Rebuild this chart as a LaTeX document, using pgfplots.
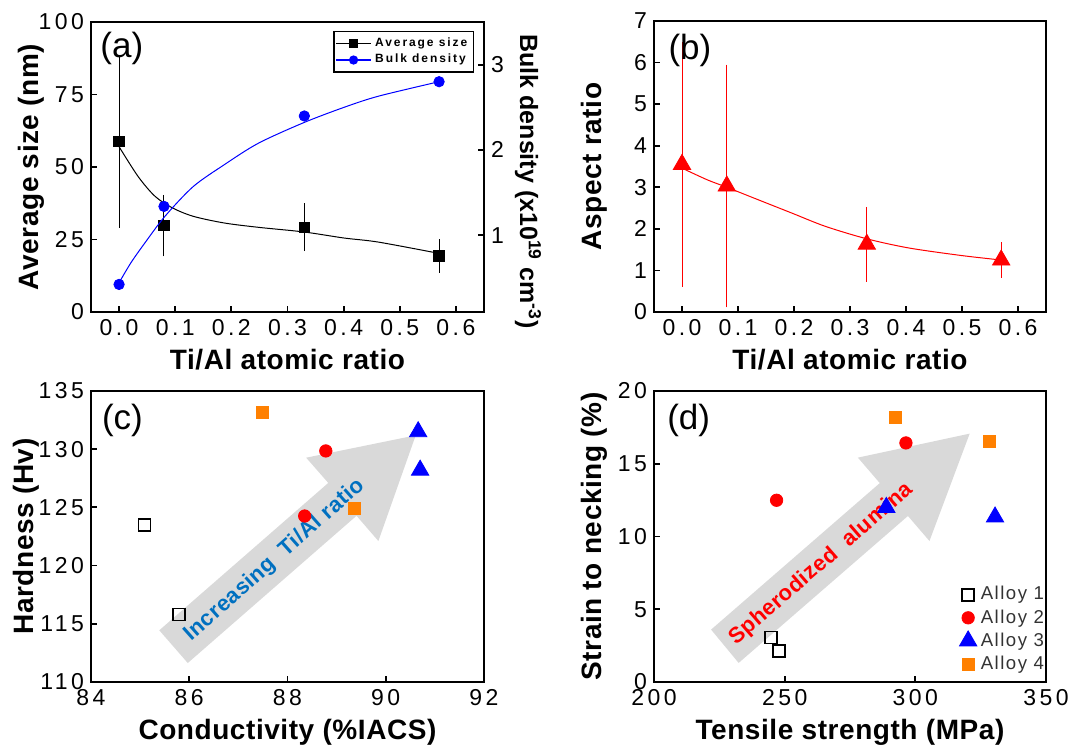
\documentclass[border=0pt]{standalone}
\usepackage{fontspec}
\setmainfont{Liberation Sans}
\newfontfamily\tickf[LetterSpace=15]{Liberation Sans}
\newfontfamily\labf[LetterSpace=2]{Liberation Sans}
\newfontfamily\legf[LetterSpace=16]{Liberation Sans}
\newfontfamily\legd[LetterSpace=8]{Liberation Sans}
\usepackage{pgfplots}
\pgfplotsset{compat=1.18}
\definecolor{myorange}{RGB}{255,128,0}
\definecolor{txtblue}{RGB}{0,112,192}
\pgfplotsset{
  panel/.style={
    scale only axis,
    axis line style={line width=1.2pt},
    every tick/.style={line width=0.9pt, black},
    major tick length=3pt, tick align=inside,
    xtick pos=bottom, ytick pos=left,
    ticklabel style={font=\tickf\fontsize{11.5}{13}\selectfont},
    /pgf/number format/assume math mode=true,
    label style={font=\labf\bfseries\fontsize{14}{16}\selectfont},
  },
  ylab/.style={every axis y label/.style={at={(rel axis cs:#1,0.5)}, rotate=90, anchor=center,
    font=\labf\bfseries\fontsize{14}{16}\selectfont}},
}
\tikzset{plab/.style={anchor=north west, inner sep=0pt, font=\fontsize{17.5}{20}\selectfont}}
\begin{document}
\begin{tikzpicture}
\path[use as bounding box] (0,0) rectangle (536pt,374pt);

% ---------------- (a) ----------------
\begin{axis}[panel, ylab=-0.152, at={(45.5pt,218pt)}, anchor=south west, width=196.5pt, height=145pt,
  xmin=-0.05, xmax=0.65, ymin=0, ymax=100,
  xtick={0,0.1,0.2,0.3,0.4,0.5,0.6}, ytick={0,25,50,75,100},
  xticklabel style={/pgf/number format/.cd, fixed, fixed zerofill, precision=1},
  xlabel={Ti/Al atomic ratio}, ylabel={Average size (nm)}]
\addplot[black, line width=0.5pt, smooth] coordinates {(0,57) (0.034,46.7) (0.064,39.9) (0.095,35.9) (0.132,33) (0.187,30.7) (0.248,29.2) (0.329,27.6) (0.401,25.5) (0.462,24.1) (0.57,20.2)};
\addplot[black, only marks, mark=square*, mark size=2.6pt,
  error bars/.cd, y dir=both, y explicit,
  error bar style={line width=0.5pt, black}, error mark options={black, mark size=2.2pt, line width=0.5pt}]
  table[x=x, y=y, y error=e] {
x y e
0 58.8 28.3
0.08 29.8 9.1
0.33 29.2 6.7
0.57 19.3 4.3
};
\node[plab] at (rel axis cs:0.023,0.965) {(a)};
\end{axis}
\begin{axis}[panel, at={(45.5pt,218pt)}, anchor=south west, width=196.5pt, height=145pt,
  xmin=-0.05, xmax=0.65, ymin=0.1, ymax=3.5,
  axis x line=none, axis y line*=right, ytick pos=right, ytick={1,2,3},
  ylabel={Bulk density (x10\textsuperscript{19} cm\textsuperscript{-3})},
  every axis y label/.style={at={(rel axis cs:1.112,0.45)}, rotate=-90, anchor=center,
    font=\bfseries\fontsize{12.5}{14}\selectfont},
  legend style={at={(0.975,0.97)}, anchor=north east, draw=black, line width=0.8pt,
    font=\legf\bfseries\fontsize{6}{7}\selectfont, inner sep=1pt, row sep=-1.5pt},
  legend cell align=left]
\addlegendimage{black, line width=0.6pt, mark=square*, mark size=2pt}
\addlegendentry{Average size}
\addlegendimage{blue, line width=0.6pt, mark=*, mark size=2pt}
\addlegendentry{Bulk density}
\addplot[blue, line width=0.5pt, smooth, forget plot] coordinates {(0,0.443) (0.021,0.676) (0.046,0.91) (0.0815,1.22) (0.132,1.57) (0.187,1.825) (0.248,2.078) (0.329,2.32) (0.401,2.50) (0.462,2.63) (0.57,2.80)};
\addplot[blue, only marks, mark=*, mark size=2.6pt, forget plot] coordinates {(0,0.423) (0.08,1.338) (0.33,2.398) (0.57,2.80)};
\end{axis}

% ---------------- (b) ----------------
\begin{axis}[panel, ylab=-0.153, at={(327pt,218pt)}, anchor=south west, width=196pt, height=145.5pt,
  xmin=-0.05, xmax=0.65, ymin=0, ymax=7,
  xtick={0,0.1,0.2,0.3,0.4,0.5,0.6}, ytick={0,1,2,3,4,5,6,7},
  xticklabel style={/pgf/number format/.cd, fixed, fixed zerofill, precision=1},
  xlabel={Ti/Al atomic ratio}, ylabel={Aspect ratio}]
\addplot[red, line width=0.5pt, smooth] coordinates {(0,3.46) (0.045,3.18) (0.08,3.0) (0.136,2.70) (0.196,2.38) (0.256,2.06) (0.33,1.76) (0.405,1.54) (0.498,1.36) (0.57,1.25)};
\addplot[red, only marks, mark=triangle*, mark size=5pt,
  error bars/.cd, y dir=both, y explicit,
  error bar style={line width=0.5pt, red}, error mark options={red, mark size=2.7pt, line width=0.5pt}]
  table[x=x, y=y, y error=e] {
x y e
0 3.55 2.81
0.08 3.03 2.79
0.33 1.63 0.77
0.57 1.25 0.30
};
\node[plab] at (rel axis cs:0.036,0.955) {(b)};
\end{axis}

% ---------------- (c) ----------------
\begin{axis}[panel, ylab=-0.165, at={(45.5pt,33pt)}, anchor=south west, width=196.5pt, height=145.5pt,
  xmin=84, xmax=92, ymin=110, ymax=135,
  xtick={84,86,88,90,92}, ytick={110,115,120,125,130,135},
  xlabel={Conductivity (\%IACS)}, ylabel={Hardness (Hv)}]
\addplot[black, only marks, mark=square, mark size=3pt, mark options={line width=0.8pt}] coordinates {(85.09,123.5) (85.79,115.8)};
\addplot[red, only marks, mark=*, mark size=3.1pt] coordinates {(88.78,129.85) (88.35,124.26)};
\addplot[blue, only marks, mark=triangle*, mark size=5pt] coordinates {(90.66,131.5) (90.70,128.2)};
\addplot[myorange, only marks, mark=square*, mark size=3pt] coordinates {(87.49,133.2) (89.37,124.9)};
\fill[black, opacity=0.15] (axis cs:85.39,114.44) -- (axis cs:88.83,127.10) -- (axis cs:88.38,129.27) -- (axis cs:90.61,131.19) -- (axis cs:89.85,122.11) -- (axis cs:89.405,124.28) -- (axis cs:85.97,111.63) -- cycle;
\node[rotate=41.6, text=txtblue, font=\labf\bfseries\fontsize{11}{13}\selectfont] at (axis cs:87.74,120.45) {Increasing\ \ Ti/Al ratio};
\node[plab] at (rel axis cs:0.027,0.955) {(c)};
\end{axis}

% ---------------- (d) ----------------
\begin{axis}[panel, ylab=-0.153, at={(327pt,33pt)}, anchor=south west, width=196pt, height=145.5pt,
  xmin=200, xmax=350, ymin=0, ymax=20,
  xtick={200,250,300,350}, ytick={0,5,10,15,20},
  xlabel={Tensile strength (MPa)}, ylabel={Strain to necking (\%)},
  legend style={at={(0.763,0.357)}, anchor=north west, draw=none, fill=none,
    font=\legd\fontsize{9.3}{11}\selectfont, text=black!80, row sep=-0.7pt},
  legend cell align=left]
\addplot[black, only marks, mark=square, mark size=3pt, mark options={line width=0.8pt}] coordinates {(244.7,3.05) (247.8,2.13)};
\addlegendentry{Alloy 1}
\addplot[red, only marks, mark=*, mark size=3.1pt] coordinates {(246.9,12.49) (296.4,16.43)};
\addlegendentry{Alloy 2}
\addplot[blue, only marks, mark=triangle*, mark size=5pt] coordinates {(288.9,12.0) (330.5,11.34)};
\addlegendentry{Alloy 3}
\addplot[myorange, only marks, mark=square*, mark size=3pt] coordinates {(292.3,18.21) (328.5,16.56)};
\addlegendentry{Alloy 4}
\fill[black, opacity=0.15] (axis cs:221.85,3.60) -- (axis cs:286.4,13.67) -- (axis cs:278.02,15.42) -- (axis cs:320.8,17.07) -- (axis cs:305.4,9.69) -- (axis cs:297.17,11.41) -- (axis cs:232.39,1.31) -- cycle;
\node[rotate=41, text=red, font=\labf\bfseries\fontsize{11}{13}\selectfont] at (axis cs:264.0,8.09) {Spherodized\ \ alumina};
\node[plab] at (rel axis cs:0.033,0.955) {(d)};
\end{axis}
\end{tikzpicture}
\end{document}
